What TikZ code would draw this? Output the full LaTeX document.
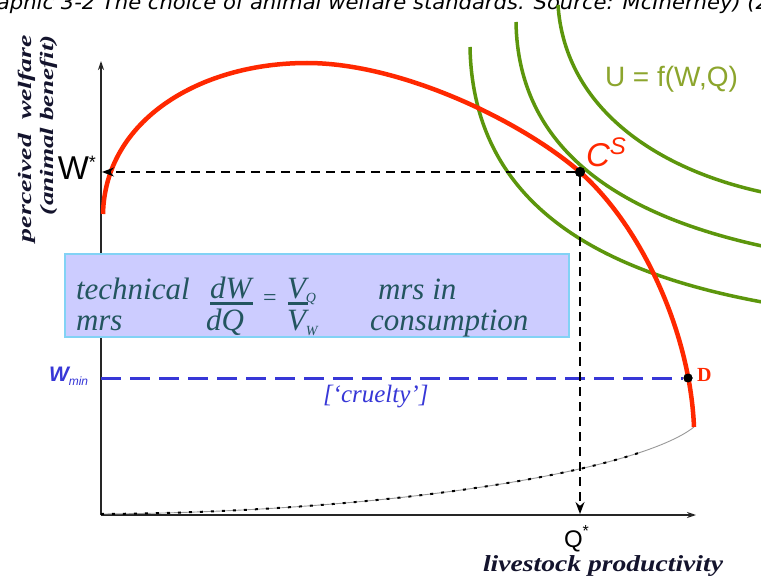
\documentclass[tikz,border=0pt]{standalone}
\usepackage{fontspec}
\usepackage{graphicx}
\setmainfont{Liberation Serif}
\newfontfamily\sansf{Liberation Sans}
\newfontfamily\titlef{DejaVu Sans}
\usetikzlibrary{arrows.meta}
\definecolor{curvered}{RGB}{255,40,0}
\definecolor{ugreen}{RGB}{92,150,12}
\definecolor{ulabel}{RGB}{140,165,45}
\definecolor{boxfill}{RGB}{204,204,255}
\definecolor{boxline}{RGB}{130,210,245}
\definecolor{boxtext}{RGB}{35,85,95}
\definecolor{minblue}{RGB}{55,55,215}
\definecolor{labelink}{RGB}{20,20,45}
\tikzset{
  axis/.style={line width=1.8pt, black!85, -{Stealth[length=9pt,width=6pt]}},
  ppf/.style={curvered, line width=4.5pt},
  indiff/.style={ugreen, line width=3.5pt},
  guide/.style={black, line width=1.4pt, dash pattern=on 9pt off 6pt, -{Stealth[length=12pt,width=9pt]}},
  minline/.style={minblue, line width=3pt, dash pattern=on 20pt off 9pt},
  txt/.style={inner sep=0pt, outer sep=0pt},
  boxtxt/.style={txt, text=boxtext, font=\itshape\fontsize{31}{31}\selectfont},
  fracbar/.style={boxtext, line width=3pt},
  dot/.style={circle, fill=black, inner sep=0pt, minimum size=10pt},
}
\begin{document}
\begin{tikzpicture}[x=1pt,y=-1pt]
\useasboundingbox (0,0) rectangle (761,583);
\fill[white] (0,0) rectangle (761,583);
% cut-off caption at the top
\begin{scope}
\clip (0,0) rectangle (761,583);
\node[txt, anchor=base west] (caption) at (-3,10) {\resizebox{772pt}{\height}{\titlef\itshape\fontsize{20}{20}\selectfont aphic 3-2 The choice of animal welfare standards. Source: McInerney) (2}};
\end{scope}
% axes
\coordinate (O) at (101,515);
\coordinate (ytop) at (101,61);
\coordinate (xend) at (696,515);
\draw[axis] (O) -- (ytop);
\draw[axis] (O) -- (xend);
% lower grey curve
\coordinate (G0) at (101,514);
\coordinate (G1) at (694,427);
\draw[black!40, line width=0.9pt] (G0) .. controls (400,512) and (640,470) .. (G1);
\draw[black, line width=2pt, dash pattern=on 3pt off 8pt] (G0) .. controls (340.2,512.4) and (541.6,485.2) .. (640.3,452.4);
% indifference curves
\draw[indiff] (470,47) .. controls (473,205) and (600,272) .. (762,302);
\draw[indiff] (516,22) .. controls (518,150) and (620,215) .. (762,246);
\draw[indiff] (558,5) .. controls (565,110) and (660,170) .. (762,192);
% points
\node[dot] (CS) at (580,172) {};
\node[dot, minimum size=9pt] (D) at (688,378) {};
% production possibility curve
\draw[ppf] (103,214) .. controls (105,120) and (200,63) .. (307,63)
  .. controls (400,63) and (520,120) .. (CS.center)
  .. controls (640,225) and (690,330) .. (694,427);
% Wmin line
\coordinate (Wmin) at (101,378);
\draw[minline] (Wmin) -- (D);
\node[dot] at (CS) {};
\node[dot, minimum size=9pt] at (D) {};
% guides from C^S
\coordinate (Wax) at (102,172);
\coordinate (Qax) at (580,514);
\draw[guide] (CS) -- (Wax);
\draw[guide] (CS) -- (Qax);
% box
\node[draw=boxline, fill=boxfill, line width=1.5pt, minimum width=504pt, minimum height=83pt, inner sep=0pt] (box) at (317,295.5) {};
\node[boxtxt, anchor=base west] (tech) at (76,299) {technical};
\node[boxtxt, anchor=base west] (mrs) at (76,330) {mrs};
\node[boxtxt, anchor=base west] (dW) at (210,298) {dW};
\node[boxtxt, anchor=base west] (dQ) at (206,330) {dQ};
\draw[fracbar] (210,303) -- (253,303);
\node[txt, text=boxtext, font=\fontsize{24}{24}\selectfont] (eq) at (270,300) {=};
\node[boxtxt, anchor=base west] (VQ) at (287,298) {V\raisebox{-4pt}{\fontsize{14}{14}\selectfont Q}};
\node[boxtxt, anchor=base west] (VW) at (287,330) {V\raisebox{-5pt}{\fontsize{14}{14}\selectfont W}};
\draw[fracbar] (288,303) -- (308,303);
\node[boxtxt, anchor=base west] (mrsin) at (378,299) {mrs in};
\node[boxtxt, anchor=base west] (cons) at (370,330) {consumption};
% labels
\node[txt, anchor=base east] (Wstar) at (96,180) {\sansf\fontsize{33}{33}\selectfont W\raisebox{11pt}{\fontsize{18}{18}\selectfont *}};
\node[txt, anchor=base west] (Qlab) at (564,547) {\sansf\fontsize{24}{24}\selectfont Q\raisebox{11pt}{\fontsize{16}{16}\selectfont *}};
\node[txt, anchor=base west, text=curvered] (CSlab) at (586,167) {\sansf\itshape\fontsize{33}{33}\selectfont C\raisebox{12pt}{\fontsize{24}{24}\selectfont S}};
\node[txt, anchor=base west, text=ulabel] (Ulab) at (605,87) {\sansf\fontsize{28}{28}\selectfont U = f(W,Q)};
\node[txt, anchor=base west, text=minblue] (Wminlab) at (49,381) {\sansf\itshape\bfseries\fontsize{21}{21}\selectfont W\raisebox{-4pt}{\mdseries\fontsize{12}{12}\selectfont min}};
\node[txt, anchor=base west, text=minblue] (cruel) at (323,402) {\itshape\fontsize{25}{25}\selectfont [‘cruelty’]};
\node[txt, anchor=base west, text=curvered] (Dlab) at (697,381) {\bfseries\fontsize{20}{20}\selectfont D};
\node[txt, anchor=base west, text=labelink] (xlab) at (483,571) {\resizebox{240pt}{\height}{\bfseries\itshape\fontsize{23}{23}\selectfont livestock productivity}};
\node[txt, anchor=base east, rotate=90, text=labelink] (ylab1) at (31,35) {\resizebox{207pt}{\height}{\bfseries\itshape\fontsize{19}{19}\selectfont perceived\ \ welfare}};
\node[txt, anchor=base east, rotate=90, text=labelink] (ylab2) at (53,35) {\resizebox{180pt}{\height}{\bfseries\itshape\fontsize{19}{19}\selectfont (animal benefit)}};
\end{tikzpicture}
\end{document}
